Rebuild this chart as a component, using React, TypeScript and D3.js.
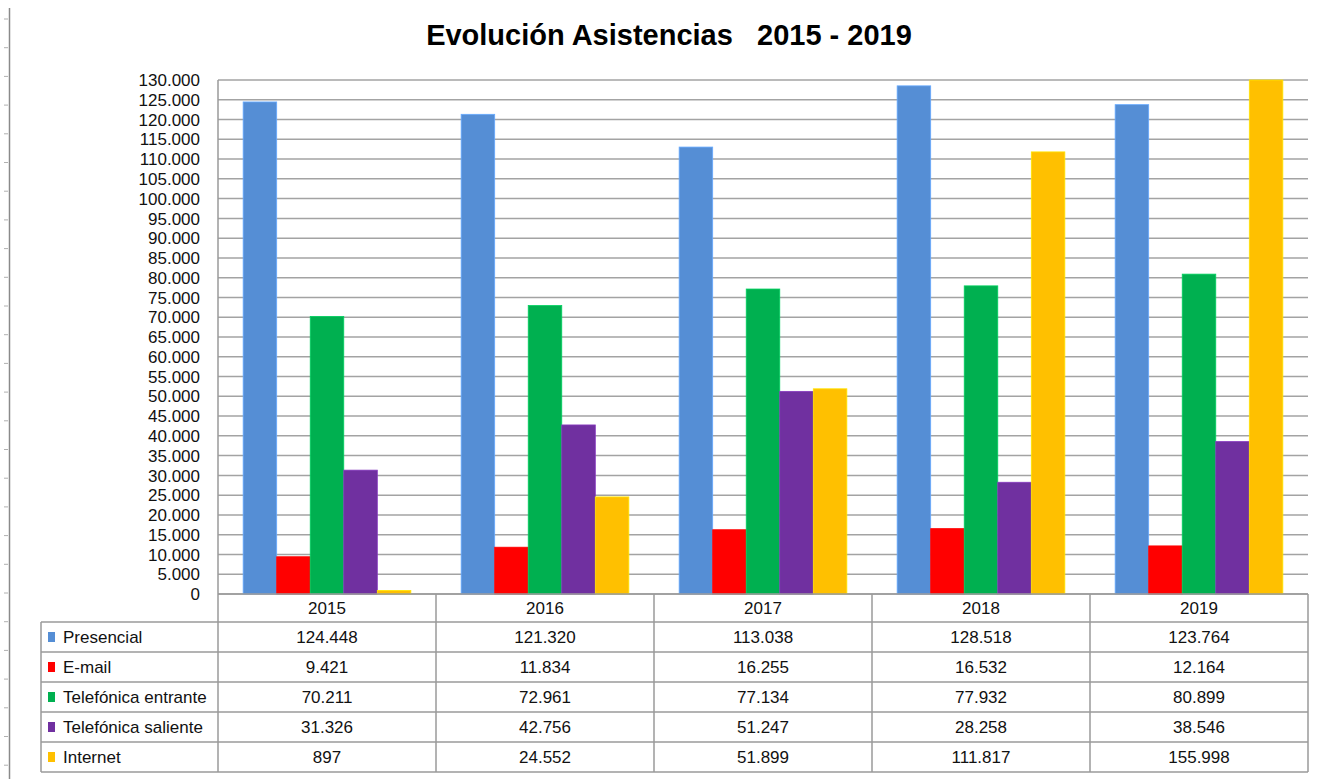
import { useRef, useEffect } from 'react';
import * as d3 from 'd3';

const years = ['2015', '2016', '2017', '2018', '2019'];
const seriesNames = ['Presencial', 'E-mail', 'Telefónica entrante', 'Telefónica saliente', 'Internet'];
const seriesColors = ['#558ed5', '#ff0000', '#00b050', '#7030a0', '#ffc000'];
const presencial = [124448, 121320, 113038, 128518, 123764];
const email = [9421, 11834, 16255, 16532, 12164];
const telEntrante = [70211, 72961, 77134, 77932, 80899];
const telSaliente = [31326, 42756, 51247, 28258, 38546];
const internet = [897, 24552, 51899, 111817, 155998];
const yTicks = d3.range(0, 130001, 5000);

const W = 1330;
const H = 779;

export default function App() {
  const svgRef = useRef<SVGSVGElement>(null);

  useEffect(() => {
    if (!svgRef.current) return;
    const svg = d3.select(svgRef.current);
    svg.selectAll('*').remove();

    const values = [presencial, email, telEntrante, telSaliente, internet];
    const left = 218;
    const right = 1308;
    const top = 80;
    const bottom = 594;
    const font = '"Liberation Sans", Arial, sans-serif';
    const gridColor = '#a3a3a3';

    // spreadsheet ruler on the far left
    const ruler = svg.append('g');
    ruler.append('line')
      .attr('x1', 9.5).attr('x2', 9.5).attr('y1', 8).attr('y2', H)
      .attr('stroke', '#8a8a8a').attr('stroke-width', 1.5);
    ruler.selectAll('line.tick')
      .data(d3.range(19, H, 28.7))
      .join('line')
      .attr('class', 'tick')
      .attr('x1', 4).attr('x2', 8)
      .attr('y1', (d) => d).attr('y2', (d) => d)
      .attr('stroke', '#b0b0b0').attr('stroke-width', 1);

    // title
    svg.append('text')
      .attr('x', 669).attr('y', 45)
      .attr('text-anchor', 'middle')
      .attr('font-family', font)
      .attr('font-weight', 'bold')
      .attr('font-size', 29)
      .style('white-space', 'pre')
      .text('Evolución Asistencias   2015 - 2019');

    const y = d3.scaleLinear().domain([0, 130000]).range([bottom, top]).clamp(true);
    const x = d3.scaleBand().domain(years).range([left, right]);
    const xs = d3.scaleBand().domain(seriesNames).range([0, x.bandwidth()]).paddingOuter(0.75);

    // grid
    svg.append('g').selectAll('line')
      .data(yTicks)
      .join('line')
      .attr('x1', left).attr('x2', right)
      .attr('y1', (d) => y(d)).attr('y2', (d) => y(d))
      .attr('stroke', gridColor).attr('stroke-width', 1.5);

    // y labels
    const fmt = (v: number) => d3.format(',')(v).replace(/,/g, '.');
    svg.append('g').selectAll('text')
      .data(yTicks)
      .join('text')
      .attr('x', 200).attr('y', (d) => y(d))
      .attr('dy', '0.36em')
      .attr('text-anchor', 'end')
      .attr('font-family', font)
      .attr('font-size', 17)
      .attr('fill', '#111')
      .text((d) => fmt(d));

    // bars
    seriesNames.forEach((s, si) => {
      svg.append('g').selectAll('rect')
        .data(values[si])
        .join('rect')
        .attr('x', (_, i) => (x(years[i]) || 0) + (xs(s) || 0))
        .attr('y', (d) => y(d))
        .attr('width', xs.bandwidth())
        .attr('height', (d) => bottom - y(d))
        .attr('fill', seriesColors[si])
        .attr('stroke', d3.color(seriesColors[si])!.brighter(0.5).formatHex())
        .attr('stroke-width', 0.8);
    });

    // data table
    const rowY = [bottom, 622, 652, 682, 712, 742, 772];
    const tableLeft = 41;
    const t = svg.append('g').attr('font-family', font).attr('font-size', 17).attr('fill', '#111');
    const border = '#9a9a9a';

    // horizontal lines
    t.selectAll('line.h')
      .data(rowY)
      .join('line')
      .attr('class', 'h')
      .attr('x1', (_, i) => (i < 1 ? left : tableLeft))
      .attr('x2', right)
      .attr('y1', (d) => d).attr('y2', (d) => d)
      .attr('stroke', border).attr('stroke-width', 1.5);

    // vertical lines
    const colX = [...years.map((yr) => x(yr) || 0), right];
    t.selectAll('line.v')
      .data(colX)
      .join('line')
      .attr('class', 'v')
      .attr('x1', (d) => d).attr('x2', (d) => d)
      .attr('y1', (d, i) => (i === 0 ? top : bottom))
      .attr('y2', rowY[rowY.length - 1])
      .attr('stroke', border).attr('stroke-width', 1.5);
    t.append('line')
      .attr('x1', tableLeft).attr('x2', tableLeft)
      .attr('y1', rowY[1]).attr('y2', rowY[rowY.length - 1])
      .attr('stroke', border).attr('stroke-width', 1.5);

    // header
    t.selectAll('text.yr')
      .data(years)
      .join('text')
      .attr('class', 'yr')
      .attr('x', (d) => (x(d) || 0) + x.bandwidth() / 2)
      .attr('y', (rowY[0] + rowY[1]) / 2)
      .attr('dy', '0.36em')
      .attr('text-anchor', 'middle')
      .text((d) => d);

    seriesNames.forEach((s, si) => {
      const cy = (rowY[si + 1] + rowY[si + 2]) / 2;
      t.append('rect')
        .attr('x', 48).attr('y', cy - 5)
        .attr('width', 7).attr('height', 10)
        .attr('fill', seriesColors[si]);
      t.append('text')
        .attr('x', 63).attr('y', cy).attr('dy', '0.36em')
        .text(s);
      t.append('g').selectAll('text')
        .data(values[si])
        .join('text')
        .attr('x', (_, i) => (x(years[i]) || 0) + x.bandwidth() / 2)
        .attr('y', cy).attr('dy', '0.36em')
        .attr('text-anchor', 'middle')
        .text((d) => fmt(d));
    });
  }, []);

  return (
    <div style={{ position: 'absolute', left: 0, top: 0, background: '#fff' }}>
      <svg ref={svgRef} width={W} height={H} />
    </div>
  );
}
